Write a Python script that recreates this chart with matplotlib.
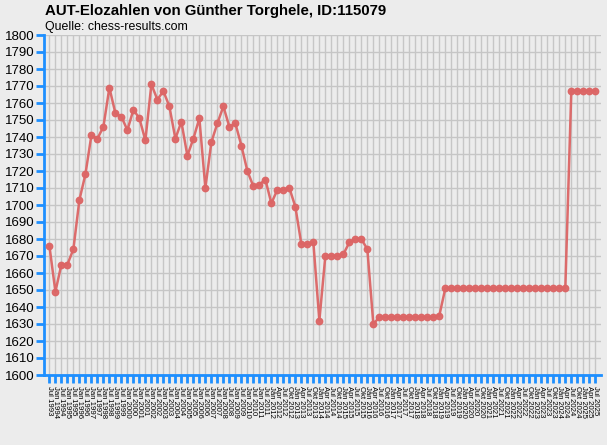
import matplotlib
matplotlib.use("Agg")
import matplotlib.pyplot as plt

title = "AUT-Elozahlen von Günther Torghele, ID:115079"
subtitle = "Quelle: chess-results.com"

labels = [
    "Jul 1993", "Jan 1994", "Jul 1994", "Jan 1995", "Jul 1995", "Jan 1996", "Jul 1996",
    "Jan 1997", "Jul 1997", "Jan 1998", "Jul 1998", "Jan 1999", "Jul 1999", "Jan 2000",
    "Jul 2000", "Jan 2001", "Jul 2001", "Jan 2002", "Jul 2002", "Jan 2003", "Jul 2003",
    "Jan 2004", "Jul 2004", "Jan 2005", "Jul 2005", "Jan 2006", "Jul 2006", "Jan 2007",
    "Jul 2007", "Jan 2008", "Jul 2008", "Jan 2009", "Jul 2009", "Jan 2010", "Jul 2010",
    "Jan 2011", "Jul 2011",
    "Jan 2012", "Apr 2012", "Jul 2012", "Okt 2012",
    "Jan 2013", "Apr 2013", "Jul 2013", "Okt 2013",
    "Jan 2014", "Apr 2014", "Jul 2014", "Okt 2014",
    "Jan 2015", "Apr 2015", "Jul 2015", "Okt 2015",
    "Jan 2016", "Apr 2016", "Jul 2016", "Okt 2016",
    "Jan 2017", "Apr 2017", "Jul 2017", "Okt 2017",
    "Jan 2018", "Apr 2018", "Jul 2018", "Okt 2018",
    "Jan 2019", "Apr 2019", "Jul 2019", "Okt 2019",
    "Jan 2020", "Apr 2020", "Jul 2020", "Okt 2020",
    "Jan 2021", "Apr 2021", "Jul 2021", "Okt 2021",
    "Jan 2022", "Apr 2022", "Jul 2022", "Okt 2022",
    "Jan 2023", "Apr 2023", "Jul 2023", "Okt 2023",
    "Jan 2024", "Apr 2024", "Jul 2024", "Okt 2024",
    "Jan 2025", "Apr 2025", "Jul 2025",
]

elo = [
    1676, 1649, 1665, 1665, 1674, 1703, 1718, 1741, 1739, 1746,
    1769, 1754, 1752, 1744, 1756, 1751, 1738, 1771, 1762, 1767,
    1758, 1739, 1749, 1729, 1739, 1751, 1710, 1737, 1748, 1758,
    1746, 1748, 1735, 1720, 1711, 1712, 1715, 1701, 1709, 1709,
    1710, 1699, 1677, 1677, 1678, 1632, 1670, 1670, 1670, 1671,
    1678, 1680, 1680, 1674, 1630,
    1634, 1634, 1634, 1634, 1634, 1634, 1634, 1634, 1634, 1634,
    1635,
    1651, 1651, 1651, 1651, 1651, 1651, 1651, 1651, 1651, 1651,
    1651, 1651, 1651, 1651, 1651, 1651, 1651, 1651, 1651, 1651, 1651,
    1767, 1767, 1767, 1767, 1767,
]

yticks = list(range(1600, 1801, 10))

BG = "#ececec"
BLUE = "#1e8fff"
LINE = "#dc6565"
FAM = ["Liberation Sans", "DejaVu Sans"]

fig = plt.figure(figsize=(6.07, 4.45), dpi=100, facecolor=BG)
ax = fig.add_axes([44 / 607, 1 - 375 / 445, 557 / 607, 340 / 445])
ax.set_facecolor(BG)

x = list(range(len(elo)))
ax.plot(x, elo, color=LINE, lw=1.8, marker="o", markersize=4.6,
        markerfacecolor=LINE, markeredgecolor=LINE, alpha=0.95, zorder=3,
        clip_on=False)

ax.set_xlim(-0.9, len(elo) - 1 + 0.95)
ax.set_ylim(1600, 1800)

ax.set_xticks(x)
ax.set_xticklabels(labels, rotation=-90, fontsize=5.6, family=FAM,
                   va="top", ha="center")
ax.set_yticks(yticks)
ax.set_yticklabels([str(v) for v in yticks], fontsize=9.5, family=FAM)

ax.grid(True, color="#c6c6c6", lw=1.0, zorder=0)
ax.set_axisbelow(True)

for s in ["top", "right"]:
    ax.spines[s].set_visible(False)
for s in ["left", "bottom"]:
    ax.spines[s].set_color(BLUE)
    ax.spines[s].set_linewidth(2.0)

ax.tick_params(axis="y", colors=BLUE, length=6, width=2, pad=1, labelcolor="black")
ax.tick_params(axis="x", colors=BLUE, length=6, width=2, pad=2, labelcolor="black")

fig.text(45 / 607, 1 - 11 / 445, title, fontsize=10.8, fontweight="bold",
         family=FAM, va="center", ha="left")
fig.text(45 / 607, 1 - 27 / 445, subtitle, fontsize=8.9,
         family=FAM, va="center", ha="left")

fig.savefig("out.png", dpi=100, facecolor=BG)
